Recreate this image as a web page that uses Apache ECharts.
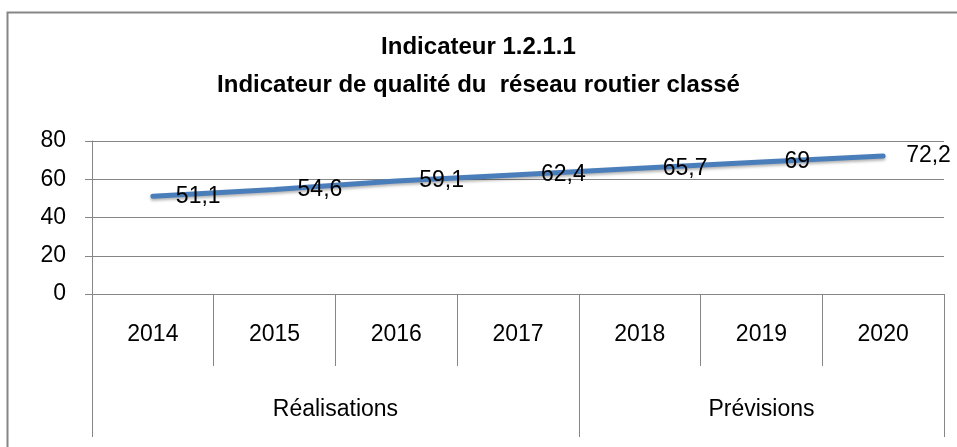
<!DOCTYPE html>
<html>
<head>
<meta charset="utf-8">
<script src="https://cdn.jsdelivr.net/npm/echarts@6/dist/echarts.min.js"></script>
<style>
  html, body { margin: 0; padding: 0; background: #fff; }
  #chart { width: 957px; height: 447px; }
</style>
</head>
<body>
<div id="chart"></div>
<script>
  // données
  var years = ['2014', '2015', '2016', '2017', '2018', '2019', '2020'];
  var values = [51.1, 54.6, 59.1, 62.4, 65.7, 69, 72.2];
  var groups = ['Réalisations', 'Prévisions'];
  var groupBounds = [0, 4, 7];   // bornes des groupes (en nombre d'années)
  var groupCenters = [2, 5.5];
  var yTicks = [0, 20, 40, 60, 80];

  var font = '"Liberation Sans", Arial, sans-serif';
  var gray = '#868686';

  var chart = echarts.init(document.getElementById('chart'));
  chart.setOption({
    backgroundColor: '#fff',
    textStyle: { fontFamily: font, color: '#000' },
    title: {
      text: 'Indicateur 1.2.1.1\nIndicateur de qualité du  réseau routier classé',
      left: 'center',
      top: 23,
      textStyle: { fontFamily: font, fontSize: 24, fontWeight: 'bold', color: '#000', lineHeight: 38 }
    },
    // cadre du graphique
    graphic: [{
      type: 'rect',
      shape: { x: 7.5, y: 12.5, width: 970, height: 460 },
      style: { fill: 'none', stroke: gray, lineWidth: 2 },
      silent: true
    }],
    grid: { left: 92, right: 13, top: 141, bottom: 153 },
    xAxis: [
      {
        type: 'category',
        data: years,
        boundaryGap: true,
        axisLine: { show: true, lineStyle: { color: gray } },
        axisTick: { show: true, length: 72, interval: 0, lineStyle: { color: gray } },
        axisLabel: { show: true, interval: 0, margin: 41, fontSize: 23, color: '#000', fontFamily: font, verticalAlign: 'middle' }
      },
      {
        type: 'value',
        position: 'bottom',
        offset: 72,
        min: 0,
        max: 7,
        axisLine: { show: false },
        splitLine: { show: false },
        axisTick: { show: true, length: 71, customValues: groupBounds, lineStyle: { color: gray } },
        axisLabel: {
          customValues: groupCenters,
          margin: 44,
          fontSize: 23,
          color: '#000',
          fontFamily: font,
          verticalAlign: 'middle',
          formatter: function (v) { return groups[groupCenters.indexOf(v)]; }
        }
      }
    ],
    yAxis: {
      type: 'value',
      min: yTicks[0],
      max: yTicks[yTicks.length - 1],
      interval: 20,
      axisLine: { show: true, lineStyle: { color: gray } },
      axisTick: { show: true, length: 7, lineStyle: { color: gray } },
      splitLine: { show: true, lineStyle: { color: gray, width: 1 } },
      axisLabel: { margin: 26, fontSize: 23, color: '#000', fontFamily: font }
    },
    series: [{
      type: 'line',
      data: values,
      xAxisIndex: 0,
      symbol: 'circle',
      symbolSize: 2,
      showSymbol: true,
      itemStyle: { color: 'rgba(0,0,0,0)', borderWidth: 0 },
      lineStyle: {
        color: '#4A7EBB', width: 5, cap: 'round',
        shadowColor: 'rgba(0,0,0,0.3)', shadowBlur: 3, shadowOffsetY: 2
      },
      label: {
        show: true,
        position: 'right',
        distance: 22,
        fontSize: 23,
        color: '#000',
        fontFamily: font,
        formatter: function (p) { return String(p.value).replace('.', ','); }
      },
      labelLayout: { hideOverlap: false },
      animation: false
    }],
    animation: false
  });
</script>
</body>
</html>
